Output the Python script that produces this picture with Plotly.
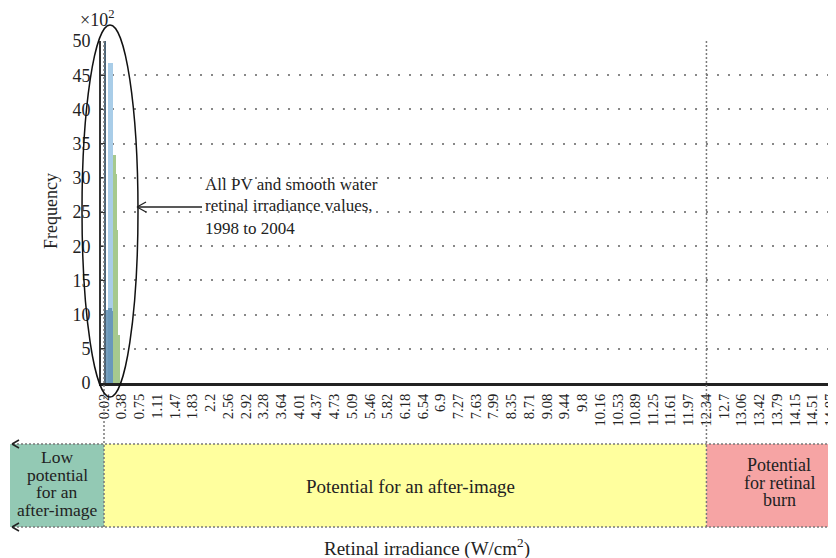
import plotly.graph_objects as go

# ---- data (frequencies in units of x10^2) ----
tick_labels = ["0.02", "0.38", "0.75", "1.11", "1.47", "1.83", "2.2", "2.56", "2.92", "3.28",
               "3.64", "4.01", "4.37", "4.73", "5.09", "5.46", "5.82", "6.18", "6.54", "6.9",
               "7.27", "7.63", "7.99", "8.35", "8.71", "9.08", "9.44", "9.8", "10.16", "10.53",
               "10.89", "11.25", "11.61", "11.97", "12.34", "12.7", "13.06", "13.42", "13.79",
               "14.15", "14.51", "14.87"]
tick_values = [float(t) for t in tick_labels]

dark_x = [0.045]
dark_y = [50.0]
light_x = [0.15]
light_y = [46.8]
steel_x = [0.07, 0.15, 0.22]
steel_y = [10.7, 10.9, 10.5]
green_x = [0.23, 0.27, 0.30, 0.335]
green_y = [33.3, 30.5, 22.4, 7.0]

y_ticks = [0, 5, 10, 15, 20, 25, 30, 35, 40, 45, 50]

low_limit = 0.02
burn_limit = 12.34

# ---- geometry (page has an 8px body margin; coordinates below are screen pixels) ----
OFF = 8
W, H = 836 - OFF, 558 - OFF
L, R, T, B = 101 - OFF, 0, 41 - OFF, (558 - OFF) - (383 - OFF)
PW, PH = W - L - R, H - T - B
SCALE = 48.9
XMIN = 0.02 - 3 / SCALE
XMAX = XMIN + PW / SCALE


def px(x):
    return (x - OFF - L) / PW


def py(y):
    return (H - B - (y - OFF)) / PH


def dpx(v):
    return (v - XMIN) / (XMAX - XMIN)


SERIF = "Liberation Serif"
fig = go.Figure()
fig.add_trace(go.Bar(x=light_x, y=light_y, width=[0.10], marker=dict(color="#a9cde8", line=dict(width=0))))
fig.add_trace(go.Bar(x=steel_x, y=steel_y, width=[0.07, 0.08, 0.06],
                     marker=dict(color="#5f8fb3", line=dict(width=0)), opacity=0.85))
fig.add_trace(go.Bar(x=green_x, y=green_y, width=[0.06, 0.03, 0.03, 0.04],
                     marker=dict(color="#a6c98e", line=dict(width=0))))
fig.add_trace(go.Bar(x=dark_x, y=dark_y, width=[0.05], marker=dict(color="#4a6275", line=dict(width=0))))

shapes = []
GRAY = "#7a7a7a"
# vertical dotted limit lines
for v in (low_limit, burn_limit):
    shapes.append(dict(type="line", xref="paper", yref="paper", x0=dpx(v), x1=dpx(v),
                       y0=py(527), y1=1, line=dict(color=GRAY, width=1.5, dash="2px,2px")))
# band rectangles
shapes.append(dict(type="rect", xref="paper", yref="paper", x0=px(10), x1=dpx(low_limit),
                   y0=py(527), y1=py(444), fillcolor="#93c9b4", line=dict(width=0), layer="below"))
shapes.append(dict(type="rect", xref="paper", yref="paper", x0=dpx(low_limit), x1=dpx(burn_limit),
                   y0=py(527), y1=py(444), fillcolor="#ffff9e", line=dict(width=0), layer="below"))
shapes.append(dict(type="rect", xref="paper", yref="paper", x0=dpx(burn_limit), x1=px(835),
                   y0=py(527), y1=py(444), fillcolor="#f6a4a4", line=dict(width=0), layer="below"))
# band dotted borders
for yy in (444, 527):
    shapes.append(dict(type="line", xref="paper", yref="paper", x0=px(13), x1=1,
                       y0=py(yy), y1=py(yy), line=dict(color=GRAY, width=1.5, dash="2px,2px")))
    shapes.append(dict(type="line", xref="paper", yref="paper", x0=px(19), x1=px(12),
                       y0=py(yy - 4), y1=py(yy), line=dict(color="#222", width=1.5)))
    shapes.append(dict(type="line", xref="paper", yref="paper", x0=px(12), x1=px(19),
                       y0=py(yy), y1=py(yy + 4), line=dict(color="#222", width=1.5)))
# ellipse
shapes.append(dict(type="circle", xref="paper", yref="paper", x0=px(82), x1=px(138),
                   y0=py(397), y1=py(25), line=dict(color="#111", width=1.5)))
# arrow
shapes.append(dict(type="line", xref="paper", yref="paper", x0=px(137), x1=px(202),
                   y0=py(207), y1=py(207), line=dict(color="#222", width=1.3)))
shapes.append(dict(type="line", xref="paper", yref="paper", x0=px(146), x1=px(137),
                   y0=py(202), y1=py(207), line=dict(color="#222", width=1.3)))
shapes.append(dict(type="line", xref="paper", yref="paper", x0=px(137), x1=px(146),
                   y0=py(207), y1=py(212), line=dict(color="#222", width=1.3)))

annotations = []


def txt(text, x, y, size=15, xanchor="center", angle=0):
    annotations.append(dict(text=text, xref="paper", yref="paper", x=px(x), y=py(y),
                            xanchor=xanchor, yanchor="middle", showarrow=False, textangle=angle,
                            font=dict(family=SERIF, size=size, color="#222")))


txt("All PV and smooth water", 203, 184, size=17, xanchor="left")
txt("retinal irradiance values,", 203, 206, size=17, xanchor="left")
txt("1998 to 2004", 203, 228, size=17, xanchor="left")
for i, line in enumerate(["Low", "potential", "for an", "after-image"]):
    txt(line, 57, 457 + i * 17.7, size=17.5)
txt("Potential for an after-image", 410, 486, size=19)
for i, line in enumerate(["Potential", "for retinal", "burn"]):
    txt(line, 779, 465 + i * 17.5, size=18)
txt("Retinal irradiance (W/cm<sup>2</sup>)", 427, 547, size=19)
txt("Frequency", 51, 211, size=18, angle=-90)
txt("×10<sup>2</sup>", 97, 18, size=18)

fig.update_layout(
    width=W, height=H, margin=dict(l=L, r=R, t=T, b=B, pad=0, autoexpand=False),
    paper_bgcolor="white", plot_bgcolor="white", showlegend=False,
    barmode="overlay", bargap=0,
    shapes=shapes, annotations=annotations,
    font=dict(family=SERIF, color="#222"),
    xaxis=dict(range=[XMIN, XMAX], tickvals=tick_values, ticktext=tick_labels, tickangle=-90,
               tickfont=dict(family=SERIF, size=14.5, color="#222"), showgrid=False, zeroline=False,
               showline=True, linecolor="#222", linewidth=3, ticks="", ticklabelstandoff=2,
               ticklabeloverflow="allow", automargin=False),
    yaxis=dict(range=[0, 50], tickvals=y_ticks, tickfont=dict(family=SERIF, size=18, color="#222"),
               showgrid=True, gridcolor="#888", gridwidth=1.5, griddash="1.5px,9.5px",
               zeroline=False, showline=True, linecolor="#333", linewidth=2,
               ticks="inside", ticklen=4, tickcolor="#333", ticklabelstandoff=5,
               automargin=False),
)
fig.write_html("out.html")
